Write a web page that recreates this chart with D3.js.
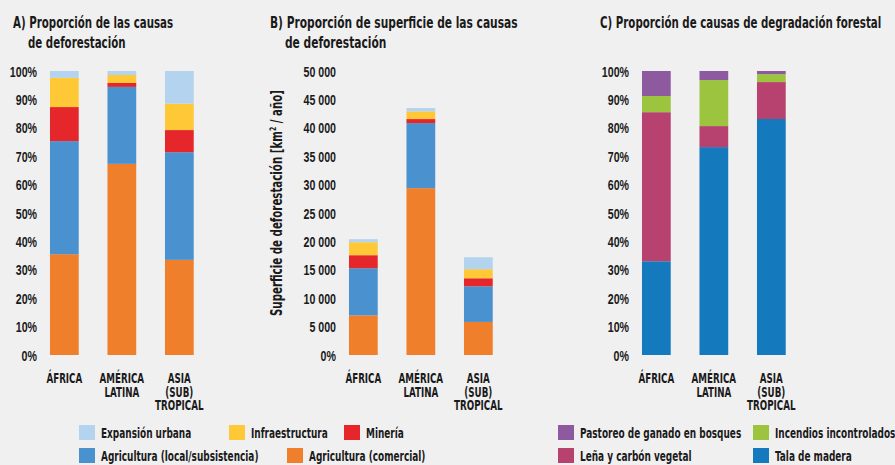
<!DOCTYPE html>
<html>
<head>
<meta charset="utf-8">
<script src="https://cdn.jsdelivr.net/npm/d3@7"></script>
<style>
  html, body { margin: 0; padding: 0; background: #f0f0f0; }
  svg { display: block; font-family: "DejaVu Sans Condensed", "DejaVu Sans", sans-serif; font-weight: bold; }
  text { fill: #1a1a1a; }
  .tick text { font-size: 14px; fill: #1a1a1a; }
  .ttl { font-size: 15px; }
  .cat { font-size: 13.5px; }
  .leg { font-size: 14px; }
</style>
</head>
<body>
<svg width="895" height="465"></svg>
<script>
// regions (x categories)
const regions = ["ÁFRICA", "AMÉRICA LATINA", "ASIA (SUB) TROPICAL"];
const regionLines = [["ÁFRICA"], ["AMÉRICA", "LATINA"], ["ASIA", "(SUB)", "TROPICAL"]];

// deforestation causes, bottom to top
const defCauses = ["Agricultura (comercial)", "Agricultura (local/subsistencia)", "Minería", "Infraestructura", "Expansión urbana"];
const defColors = ["#ef7f2a", "#4a91cf", "#e5262b", "#fec836", "#b3d3ee"];

// A) share of causes (%), per region, same order as defCauses
const shareAfrica = [35.5, 39.8, 12.0, 10.3, 2.4];
const shareAmerica = [67.3, 27.1, 1.4, 2.8, 1.4];
const shareAsia = [33.5, 37.9, 7.8, 9.3, 11.5];

// B) area per cause (km2/año)
const areaAfrica = [6990, 8290, 2290, 2290, 530];
const areaAmerica = [29380, 11450, 710, 1350, 590];
const areaAsia = [5820, 6280, 1410, 1590, 2110];

// degradation causes, bottom to top
const degCauses = ["Tala de madera", "Leña y carbón vegetal", "Incendios incontrolados", "Pastoreo de ganado en bosques"];
const degColors = ["#1479bd", "#b7416f", "#9cc43e", "#8d5aa0"];

// C) share of degradation causes (%)
const degAfrica = [33.0, 52.5, 5.7, 8.8];
const degAmerica = [73.2, 7.4, 16.2, 3.2];
const degAsia = [83.1, 13.0, 2.8, 1.1];

const pctTicks = [0, 10, 20, 30, 40, 50, 60, 70, 80, 90, 100];
const areaTicks = [0, 5000, 10000, 15000, 20000, 25000, 30000, 35000, 40000, 45000, 50000];

const svg = d3.select("svg");
const locale = d3.formatLocale({ decimal: ",", thousands: " ", grouping: [3], currency: ["", ""] });
const fmtArea = v => v === 0 ? "0%" : locale.format(",")(v);

// no condensed font with this look is installed, so squeeze DejaVu a bit
function label(parent, x, y, str, cls, anchor, sx) {
    return parent.append("g")
        .attr("transform", `translate(${x},${y}) scale(${sx || 0.76},1)`)
        .append("text")
        .attr("class", cls)
        .attr("text-anchor", anchor || "start")
        .text(str);
}

function makeRows(keys, arrays) {
    return regions.map((r, i) => {
        const row = { region: r };
        keys.forEach((k, j) => row[k] = arrays[i][j]);
        return row;
    });
}

function drawPanel(opts) {
    const x = d3.scaleBand()
        .domain(regions)
        .range([opts.x0, opts.x0 + 172.5])
        .paddingInner(0.5)
        .paddingOuter(0.25);

    const y = d3.scaleLinear()
        .domain([0, opts.max])
        .range([355, 71]);

    const series = d3.stack().keys(opts.keys)(opts.rows);

    const g = svg.append("g");
    g.selectAll("g.layer")
        .data(series)
        .enter().append("g")
        .attr("fill", (d, i) => opts.colors[i])
        .selectAll("rect")
        .data(d => d)
        .enter().append("rect")
        .attr("x", d => x(d.data.region))
        .attr("width", x.bandwidth())
        .attr("y", d => y(d[1]))
        .attr("height", d => y(d[0]) - y(d[1]));

    const axis = g.append("g")
        .attr("transform", `translate(${opts.axisX},0)`)
        .call(d3.axisLeft(y).tickValues(opts.ticks).tickSize(0).tickPadding(0).tickFormat(opts.fmt));
    axis.select(".domain").remove();
    axis.selectAll("text")
        .attr("dy", "0.36em")
        .attr("transform", "scale(0.76,1)");

    // category labels
    regionLines.forEach((lines, i) => {
        const cx = x(regions[i]) + x.bandwidth() / 2;
        const t = label(g, cx, 383, null, "cat", "middle", 0.72);
        lines.forEach((l, k) => {
            t.append("tspan")
                .attr("x", 0)
                .attr("dy", k === 0 ? 0 : 13.6)
                .text(l);
        });
    });

    // title
    opts.title.forEach((l, k) => {
        label(g, opts.titleX[k], 28 + k * 20, l, "ttl", "start", opts.titleSx);
    });
}

drawPanel({
    x0: 35.6, max: 100, keys: defCauses, colors: defColors,
    rows: makeRows(defCauses, [shareAfrica, shareAmerica, shareAsia]),
    ticks: pctTicks, fmt: d => d + "%", axisX: 37,
    title: ["A) Proporción de las causas", "de deforestación"], titleX: [13, 28], titleSx: 0.76
});

drawPanel({
    x0: 334.6, max: 50000, keys: defCauses, colors: defColors,
    rows: makeRows(defCauses, [areaAfrica, areaAmerica, areaAsia]),
    ticks: areaTicks, fmt: fmtArea, axisX: 336,
    title: ["B) Proporción de superficie de las causas", "de deforestación"], titleX: [270, 285], titleSx: 0.79
});

drawPanel({
    x0: 627.6, max: 100, keys: degCauses, colors: degColors,
    rows: makeRows(degCauses, [degAfrica, degAmerica, degAsia]),
    ticks: pctTicks, fmt: d => d + "%", axisX: 629,
    title: ["C) Proporción de causas de degradación forestal"], titleX: [600], titleSx: 0.76
});

// y axis title of panel B
const yt = svg.append("text")
    .attr("class", "ttl")
    .attr("text-anchor", "middle")
    .attr("transform", "translate(282,203) rotate(-90) scale(0.76,1)");
yt.append("tspan").text("Superficie de deforestación [km");
yt.append("tspan").attr("font-size", 9).attr("dy", -6).text("2");
yt.append("tspan").attr("dy", 6).text(" / año]");

// legends
const legDef = [
    { key: "Expansión urbana", x: 79, y: 425 },
    { key: "Infraestructura", x: 229, y: 425 },
    { key: "Minería", x: 344, y: 425 },
    { key: "Agricultura (local/subsistencia)", x: 79, y: 448 },
    { key: "Agricultura (comercial)", x: 287, y: 448 }
];
const legDeg = [
    { key: "Pastoreo de ganado en bosques", x: 558, y: 425 },
    { key: "Incendios incontrolados", x: 753, y: 425 },
    { key: "Leña y carbón vegetal", x: 558, y: 448 },
    { key: "Tala de madera", x: 753, y: 448 }
];

function drawLegend(items, keys, colors) {
    const lg = svg.append("g").selectAll("g")
        .data(items)
        .enter().append("g")
        .attr("transform", d => `translate(${d.x},${d.y})`);
    lg.append("rect")
        .attr("width", 16).attr("height", 15)
        .attr("fill", d => colors[keys.indexOf(d.key)]);
    lg.each(function(d) {
        label(d3.select(this), 22, 12.5, d.key, "leg", "start", 0.71);
    });
}
drawLegend(legDef, defCauses, defColors);
drawLegend(legDeg, degCauses, degColors);
</script>
</body>
</html>
